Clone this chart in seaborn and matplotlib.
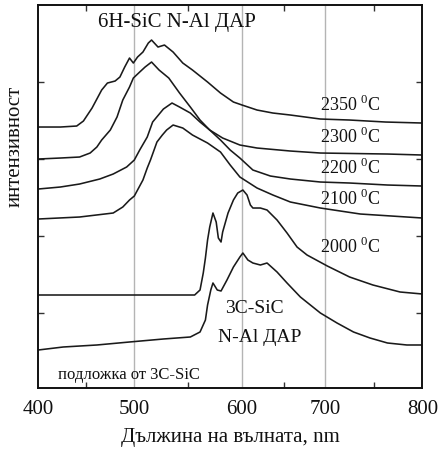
import matplotlib
matplotlib.use("Agg")
import matplotlib.pyplot as plt
import numpy as np
import pandas as pd
import seaborn as sns

# wavelength (nm) / intensity (a.u.)
wl_2350 = [400, 423, 440, 447, 456, 466, 472, 480, 485, 490, 495, 499, 503, 508, 513, 516,
           522, 528, 536, 545, 554, 568, 580, 592, 600, 618, 637, 658, 694, 725, 762, 800]
i_2350 = [261, 261, 262, 267, 280, 298, 305, 307, 311, 321, 330, 325, 331, 336, 345, 348,
          341, 343, 336, 325, 318, 306, 295, 286, 283, 278, 275, 273, 269, 268, 266, 265]

wl_2300 = [400, 423, 443, 454, 461, 466, 475, 482, 488, 495, 499, 505, 510, 516,
           523, 532, 542, 552, 561, 570, 582, 598, 618, 658, 694, 764, 800]
i_2300 = [229, 230, 231, 235, 241, 248, 258, 271, 288, 301, 310, 316, 321, 326,
          318, 310, 295, 281, 268, 258, 250, 243, 240, 237, 235, 234, 233]

wl_2200 = [400, 423, 443, 464, 478, 492, 500, 505, 512, 517, 527, 535, 542, 552,
           561, 570, 580, 589, 598, 613, 634, 658, 694, 725, 764, 800]
i_2200 = [199, 201, 204, 209, 214, 221, 228, 238, 251, 266, 279, 285, 281, 275,
          266, 258, 248, 238, 230, 218, 212, 209, 206, 205, 203, 202]

wl_2100 = [400, 443, 478, 488, 495, 500, 502, 508, 512, 515, 521, 526, 530, 536,
           545, 554, 568, 580, 589, 598, 618, 637, 658, 694, 736, 800]
i_2100 = [169, 171, 175, 181, 188, 192, 196, 208, 220, 228, 246, 253, 258, 263,
          260, 253, 245, 236, 223, 211, 200, 193, 186, 180, 174, 170]

wl_2000 = [400, 464, 515, 556, 561, 564, 566, 568, 570, 573, 576, 578, 580.5, 582, 587,
           592, 596, 601, 606, 610, 613, 622, 630, 642, 654, 666, 678, 702, 725, 749, 777, 800]
i_2000 = [93, 93, 93, 93, 98, 115, 130, 148, 161, 175, 166, 150, 146, 156, 175,
          188, 195, 198, 193, 183, 180, 180, 178, 168, 155, 141, 133, 122, 111, 103, 96, 94]

wl_sub = [400, 426, 461, 495, 527, 552, 561, 566, 568, 571, 573, 577, 580.5, 586, 592,
          598, 601, 607, 613, 622, 630, 642, 654, 670, 694, 712, 729, 746, 764, 784, 800]
i_sub = [38, 41, 43, 46, 49, 51, 56, 68, 83, 98, 105, 98, 97, 108, 121,
         131, 135, 128, 125, 123, 125, 116, 105, 91, 75, 65, 56, 50, 45, 43, 43]

curves = {
    "2350": (wl_2350, i_2350),
    "2300": (wl_2300, i_2300),
    "2200": (wl_2200, i_2200),
    "2100": (wl_2100, i_2100),
    "2000": (wl_2000, i_2000),
    "sub": (wl_sub, i_sub),
}

temp_labels = ["2350", "2300", "2200", "2100", "2000"]
temp_label_y = [283, 251, 220, 189, 141]

x_ticks = [400, 500, 600, 700, 800]
x_minor = [450, 550, 650, 750]

# the original axis is not evenly spaced; gridline spacing measured on the picture
warp_nm = np.array([400, 500, 600, 700, 800])
warp_pos = np.array([0, 96, 203.7, 287, 384])


def fwd(x):
    return np.interp(x, warp_nm, warp_pos)


def inv(x):
    return np.interp(x, warp_pos, warp_nm)


frames = []
for name, (wl, inten) in curves.items():
    frames.append(pd.DataFrame({"wl": wl, "I": inten, "curve": name}))
df = pd.concat(frames, ignore_index=True)

sns.set_theme(style="white")
plt.rcParams["font.family"] = ["Liberation Serif", "DejaVu Serif"]
plt.rcParams["mathtext.fontset"] = "custom"
plt.rcParams["mathtext.rm"] = "Liberation Serif"

fig = plt.figure(figsize=(4.4, 4.5), dpi=100)
ax = fig.add_axes([0.087, 0.1378, 0.873, 0.851])

ax.set_xscale("function", functions=(fwd, inv))

for x in [500, 600, 700]:
    ax.axvline(x, color="#b4b4b4", lw=1.0, zorder=0)

sns.lineplot(data=df, x="wl", y="I", hue="curve", palette=["#1a1a1a"] * len(curves),
             estimator=None, sort=False, legend=False, lw=1.15, ax=ax)

ax.set_xlim(400, 800)
ax.set_ylim(0, 383)
ax.set_xticks(x_ticks)
ax.set_xticklabels([str(t) for t in x_ticks])
ax.set_xticks(x_minor, minor=True)
ax.set_yticks([75, 152, 229, 306])
ax.set_yticklabels([])

ax.tick_params(axis="x", which="major", direction="in", length=0, pad=9, labelsize=15,
               colors="#111111")
ax.tick_params(axis="x", which="minor", direction="in", length=4, width=1, top=True,
               bottom=True, color="#333333")
ax.tick_params(axis="y", which="major", direction="in", length=4, width=1, left=True,
               right=True, color="#333333")

for s in ax.spines.values():
    s.set_color("#111111")
    s.set_linewidth(1.4)

ax.set_xlabel("Дължина на вълната, nm", fontsize=15, labelpad=6, color="#111111")
ax.set_ylabel("интензивност", fontsize=15, color="#111111")
ax.yaxis.set_label_coords(-0.035, 0.63)

for lab, y in zip(temp_labels, temp_label_y):
    ax.text(694, y, lab + r" $^0$C", fontsize=13, va="center", ha="left", color="#111111")

ax.text(462, 366, "6H-SiC N-Al ДАР", fontsize=15, va="center", ha="left", color="#111111")
ax.text(584, 80, "3C-SiC", fontsize=14, va="center", ha="left", color="#111111")
ax.text(578, 50, "N-Al ДАР", fontsize=14, va="center", ha="left", color="#111111")
ax.text(421, 13, "подложка от 3C-SiC", fontsize=12, va="center", ha="left", color="#111111")

fig.savefig("out.png", dpi=100)
plt.close(fig)
